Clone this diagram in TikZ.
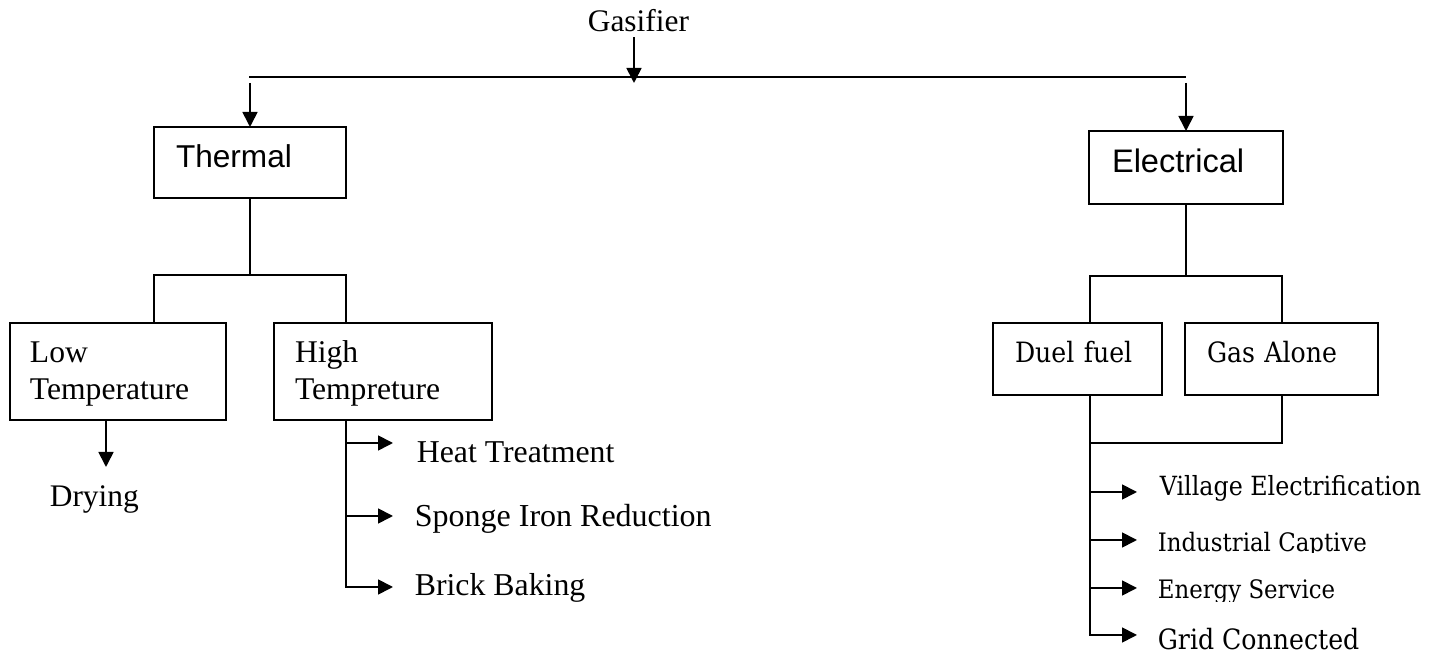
\documentclass[tikz,border=0pt]{standalone}
\usepackage{fontspec}
\setmainfont{Liberation Serif}
\newfontfamily\sansf{Liberation Sans}
\newfontfamily\wserif[FakeStretch=0.9]{DejaVu Serif}
\usetikzlibrary{arrows.meta}
\begin{document}
\begin{tikzpicture}[x=0.5pt,y=-0.5pt,line width=0.85pt,
  >={Triangle[length=7.5pt,width=7.5pt]},
  boxnode/.style={draw,line width=0.9pt,rectangle,anchor=north west,inner ysep=0pt,outer sep=0pt,align=left},
  lab/.style={anchor=base west,inner sep=0pt}]
\useasboundingbox (0,0) rectangle (1442,656);

% boxes
\node[boxnode,inner xsep=11pt,text width=74pt,text height=20.5pt,text depth=15pt,
  font=\sansf\fontsize{15.8pt}{19pt}\selectfont] (thermal) at (154,127) {Thermal};
\node[boxnode,inner xsep=11.5pt,text width=74pt,text height=21pt,text depth=15.5pt,
  font=\sansf\fontsize{16.3pt}{19pt}\selectfont] (electrical) at (1089,131) {Electrical};
\node[boxnode,inner xsep=10pt,text width=88pt,text height=20pt,text depth=28.5pt,
  font=\fontsize{15.8pt}{18.5pt}\selectfont] (low) at (10,323) {Low\\Temperature};
\node[boxnode,inner xsep=10.5pt,text width=88pt,text height=20pt,text depth=28.5pt,
  font=\fontsize{15.8pt}{18.5pt}\selectfont] (high) at (274,323) {High\\Tempreture};
\node[boxnode,inner xsep=11pt,text width=62.5pt,text height=20pt,text depth=16pt,
  font=\wserif\fontsize{14pt}{17pt}\selectfont] (duel) at (993,323) {Duel fuel};
\node[boxnode,inner xsep=11pt,text width=74.5pt,text height=20pt,text depth=16pt,
  font=\wserif\fontsize{14pt}{17pt}\selectfont] (gas) at (1185,323) {Gas Alone};

% labels
\node[lab,font=\fontsize{15.7pt}{18pt}\selectfont] (gasif) at (587,32) {Gasifier};
\node[lab,font=\fontsize{15.7pt}{18pt}\selectfont] (drying) at (49,507) {Drying};
\node[lab,font=\fontsize{15.9pt}{18pt}\selectfont] (heat) at (416,463) {Heat Treatment};
\node[lab,font=\fontsize{16pt}{18pt}\selectfont] (sponge) at (414,527) {Sponge Iron Reduction};
\node[lab,font=\fontsize{15.9pt}{18pt}\selectfont] (brick) at (414,596) {Brick Baking};
\node[lab,font=\wserif\fontsize{13.2pt}{15pt}\selectfont] (village) at (1159,496) {Village Electrification};
\begin{scope}
  \clip (1150,505) rectangle (1442,553);
  \node[lab,font=\wserif\fontsize{12.7pt}{15pt}\selectfont] (indcap) at (1157,552) {Industrial Captive};
\end{scope}
\begin{scope}
  \clip (1150,560) rectangle (1442,602);
  \node[lab,font=\wserif\fontsize{12.7pt}{15pt}\selectfont] (energy) at (1157,599) {Energy Service};
\end{scope}
\node[lab,font=\wserif\fontsize{14pt}{17pt}\selectfont] (grid) at (1157,650) {Grid Connected};

% coordinates
\coordinate (topL) at (249,77);
\coordinate (topR) at (1186,77);
\coordinate (gtip) at (634,83);
\coordinate (aL) at (250,83);
\coordinate (aR) at (1186,83);
\coordinate (tj) at (250,275);
\coordinate (tjL) at (154,275);
\coordinate (tjR) at (346,275);
\coordinate (dr) at (106,467);
\coordinate (h1) at (393,443);
\coordinate (h2) at (393,516);
\coordinate (h3) at (393,587);
\coordinate (ej) at (1186,276);
\coordinate (ejL) at (1090,276);
\coordinate (ejR) at (1282,276);
\coordinate (gj) at (1090,443);
\coordinate (e1) at (1137,492);
\coordinate (e2) at (1137,540);
\coordinate (e3) at (1137,588);
\coordinate (e4) at (1137,635);

% connectors
\draw (topL) -- (topR);
\draw[->,shorten <=2pt] (gasif.south -| gtip) -- (gtip);
\draw[->] (aL) -- (aL |- thermal.north);
\draw[->] (aR) -- (aR |- electrical.north);

\draw (thermal.south -| tj) -- (tj);
\draw (low.north -| tjL) -- (tjL) -- (tjR) -- (high.north -| tjR);
\draw[->] (low.south -| dr) -- (dr);
\draw[->] (high.south -| tjR) |- (h3);
\draw[->] (h1 -| tjR) -- (h1);
\draw[->] (h2 -| tjR) -- (h2);

\draw (electrical.south -| ej) -- (ej);
\draw (duel.north -| ejL) -- (ejL) -- (ejR) -- (gas.north -| ejR);
\draw (gas.south -| ejR) |- (gj);
\draw[->] (duel.south -| ejL) |- (e4);
\draw[->] (e1 -| ejL) -- (e1);
\draw[->] (e2 -| ejL) -- (e2);
\draw[->] (e3 -| ejL) -- (e3);
\end{tikzpicture}
\end{document}
